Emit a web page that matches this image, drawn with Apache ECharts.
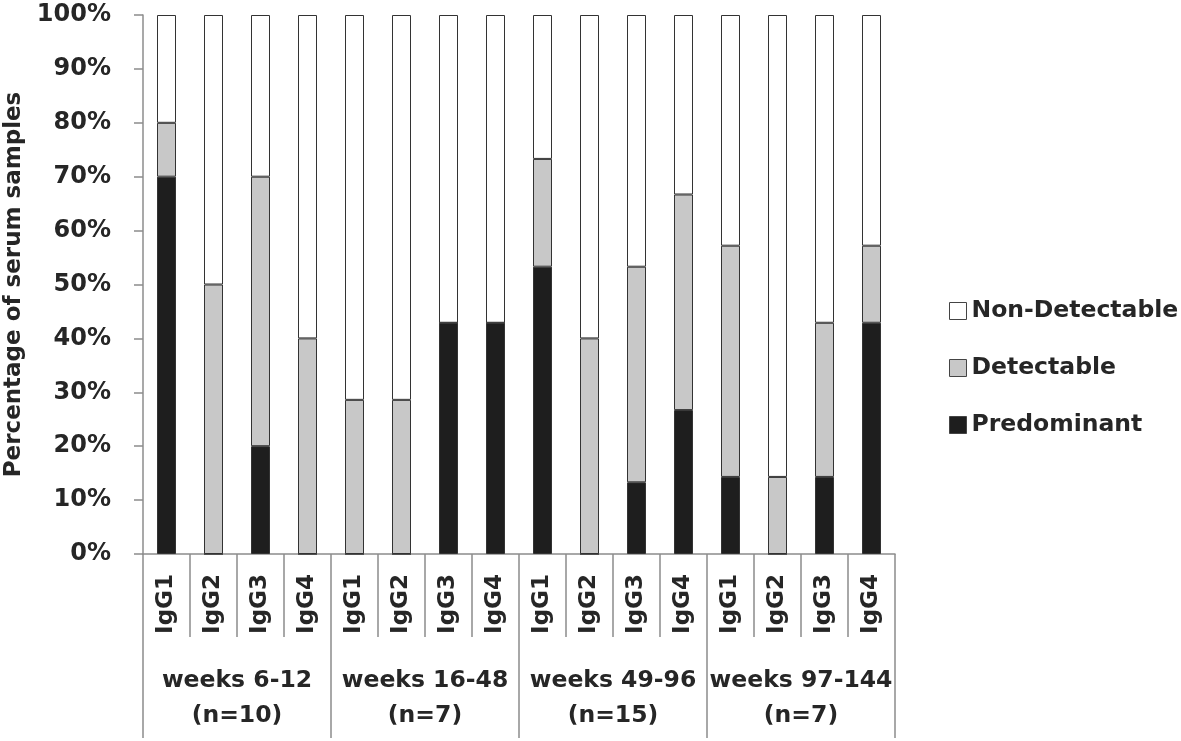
<!DOCTYPE html>
<html><head><meta charset="utf-8">
<script src="https://cdn.jsdelivr.net/npm/echarts@6/dist/echarts.min.js"></script>
<style>html,body{margin:0;padding:0;background:#fff}#c{width:1181px;height:741px}</style>
</head><body><div id="c"></div>
<script>
const subclasses = ['IgG1','IgG2','IgG3','IgG4','IgG1','IgG2','IgG3','IgG4','IgG1','IgG2','IgG3','IgG4','IgG1','IgG2','IgG3','IgG4'];
const groups = ['weeks 6-12\n(n=10)','weeks 16-48\n(n=7)','weeks 49-96\n(n=15)','weeks 97-144\n(n=7)'];
const predominant   = [70, 0, 20, 0,   0, 0, 42.9, 42.9,   53.3, 0, 13.3, 26.7,   14.3, 0, 14.3, 42.9];
const detectable    = [10, 50, 50, 40,  28.6, 28.6, 0, 0,   20, 40, 40, 40,   42.9, 14.3, 28.6, 14.3];
const nonDetectable = [20, 50, 30, 60,  71.4, 71.4, 57.1, 57.1,   26.7, 60, 46.7, 33.3,   42.8, 85.7, 57.1, 42.8];
const yTicks = [0,10,20,30,40,50,60,70,80,90,100];

const FONT = 'DejaVu Sans';
const TXT = '#262626';
const AX = '#8c8c8c';
const chart = echarts.init(document.getElementById('c'));
const barStyle = (c) => ({color: c, borderColor: '#333', borderWidth: 1});
chart.setOption({
  animation: false,
  backgroundColor: '#fff',
  textStyle: {fontFamily: FONT, fontWeight: 'bold', color: TXT},
  grid: {left: 143, right: 286, top: 15, bottom: 187, outerBoundsMode: 'none', containLabel: false},
  legend: {
    orient: 'vertical', left: 944, top: 294, itemGap: 33,
    itemWidth: 17, itemHeight: 17, icon: 'rect',
    textStyle: {fontFamily: FONT, fontWeight: 'bold', fontSize: 23.5, color: TXT, padding: [0,0,0,0]},
    data: [
      {name: 'Non-Detectable', itemStyle: {color: '#fff', borderColor: '#444', borderWidth: 1}},
      {name: 'Detectable', itemStyle: {color: '#c8c8c8', borderColor: '#444', borderWidth: 1}},
      {name: 'Predominant', itemStyle: {color: '#1e1e1e', borderColor: '#444', borderWidth: 1}}
    ]
  },
  xAxis: [{
    type: 'category', data: subclasses, position: 'bottom',
    axisLine: {show: true, lineStyle: {color: AX, width: 1.5}},
    axisTick: {show: true, interval: 0, length: 83, lineStyle: {color: AX, width: 1.5}},
    axisLabel: {interval: 0, rotate: 90, margin: 20, fontFamily: FONT, fontWeight: 'bold', fontSize: 23, color: TXT}
  }, {
    type: 'category', data: groups, position: 'bottom', offset: 0,
    axisLine: {show: false},
    axisTick: {show: true, interval: 0, length: 184, lineStyle: {color: AX, width: 1.5}},
    axisLabel: {interval: 0, margin: 109, lineHeight: 35, fontFamily: FONT, fontWeight: 'bold', fontSize: 23.5, color: TXT}
  }],
  yAxis: {
    type: 'value', min: 0, max: 100, interval: 10,
    name: 'Percentage of serum samples', nameLocation: 'middle', nameGap: 116,
    nameTextStyle: {fontFamily: FONT, fontWeight: 'bold', fontSize: 23, color: TXT},
    axisLine: {show: true, lineStyle: {color: AX, width: 1.5}},
    axisTick: {show: true, length: 9, lineStyle: {color: AX, width: 1.5}},
    splitLine: {show: false},
    axisLabel: {margin: 32, formatter: v => yTicks.includes(v) ? v + '%' : '', fontFamily: FONT, fontWeight: 'bold', fontSize: 24, color: TXT}
  },
  series: [
    {name: 'Predominant', type: 'bar', stack: 's', barWidth: 19, data: predominant, itemStyle: barStyle('#1e1e1e')},
    {name: 'Detectable', type: 'bar', stack: 's', barWidth: 19, data: detectable, itemStyle: barStyle('#c8c8c8')},
    {name: 'Non-Detectable', type: 'bar', stack: 's', barWidth: 19, data: nonDetectable, itemStyle: barStyle('#ffffff')}
  ]
});
</script></body></html>
